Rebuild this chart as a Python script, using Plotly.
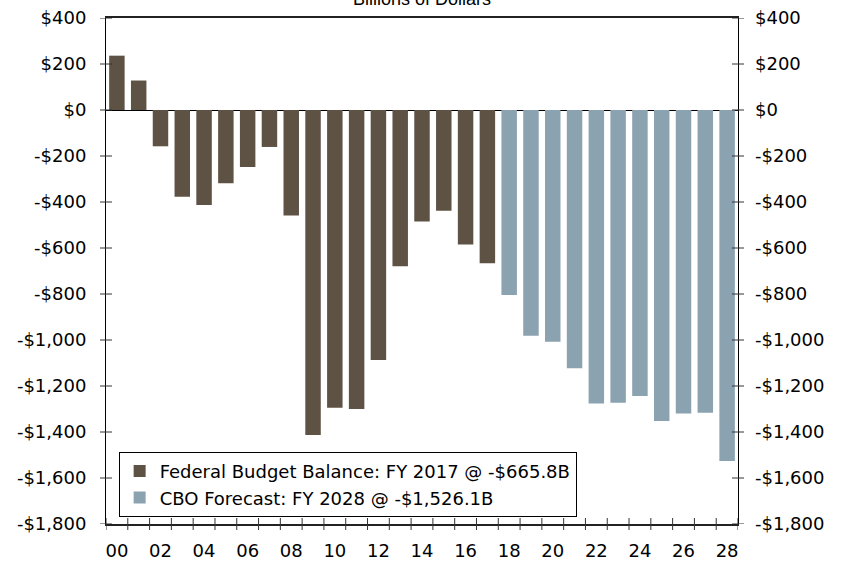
import plotly.graph_objects as go

# Federal budget balance, billions of dollars (fiscal years)
hist_years = list(range(2000, 2018))
hist_values = [236.2, 128.2, -157.8, -377.6, -412.7, -318.3, -248.2, -160.7, -458.6,
               -1412.7, -1294.4, -1299.6, -1087.0, -679.5, -484.6, -438.5, -584.7, -665.8]

fcst_years = list(range(2018, 2029))
fcst_values = [-804.0, -981.0, -1008.0, -1123.0, -1276.0, -1273.0, -1244.0,
               -1352.0, -1320.0, -1316.0, -1526.1]

hist_name = "Federal Budget Balance: FY 2017 @ -$665.8B"
fcst_name = "CBO Forecast: FY 2028 @ -$1,526.1B"

y_ticks = [400, 200, 0, -200, -400, -600, -800, -1000, -1200, -1400, -1600, -1800]
y_labels = ["$400", "$200", "$0", "-$200", "-$400", "-$600", "-$800", "-$1,000",
            "-$1,200", "-$1,400", "-$1,600", "-$1,800"]

x_label_years = list(range(2000, 2029, 2))
x_labels = [f"{y % 100:02d}" for y in x_label_years]
x_bounds = [y + 0.5 for y in range(1999, 2029)]

BROWN = "#5E5245"
BLUE = "#8BA2B1"
FONT = "DejaVu Sans"
x_range = [1999.5, 2028.5]
y_range = [-1800, 400]
TICK_HALF = 6  # tick marks cross the axis line: half outside, half inside

fig = go.Figure()
fig.add_trace(go.Bar(x=hist_years, y=hist_values, name=hist_name,
                     marker=dict(color=BROWN, line=dict(width=0))))
# forecast bars share the x axis and live on the right-hand y axis (same scale)
fig.add_trace(go.Bar(x=fcst_years, y=fcst_values, name=fcst_name, yaxis="y2",
                     marker=dict(color=BLUE, line=dict(width=0))))

common_y = dict(range=y_range, tickvals=y_ticks, ticktext=y_labels, showgrid=False,
                ticks="", automargin=False, ticklabelstandoff=15)

fig.update_layout(
    width=846, height=563,
    margin=dict(l=106, r=108, t=18, b=39, autoexpand=False),
    paper_bgcolor="white", plot_bgcolor="white",
    barmode="overlay", bargap=0.29,
    font=dict(family=FONT, size=18, color="black"),
    showlegend=True,
    legend=dict(x=0.02, y=0.014, xanchor="left", yanchor="bottom",
                bgcolor="white", bordercolor="black", borderwidth=1,
                font=dict(family=FONT, size=18, color="black"),
                tracegroupgap=0),
    xaxis=dict(range=x_range, tickvals=x_label_years, ticktext=x_labels, ticks="",
               showgrid=False, zeroline=False, automargin=False,
               showline=True, linecolor="#222222", linewidth=1.5, mirror=True,
               ticklabelstandoff=10),
    yaxis=dict(common_y, side="left",
               showline=True, linecolor="black", linewidth=1, mirror=True,
               zeroline=True, zerolinecolor="black", zerolinewidth=1),
    yaxis2=dict(common_y, side="right", overlaying="y", anchor="x",
                zeroline=False, showline=False, ticklabelstandoff=16),
)

# crossing tick marks on the bottom axis at every category boundary
for b in x_bounds:
    fig.add_shape(type="line", xref="x", x0=b, x1=b,
                  yref="paper", ysizemode="pixel", yanchor=0,
                  y0=-TICK_HALF, y1=TICK_HALF,
                  line=dict(color="#333333", width=1))

# crossing tick marks on both value axes
for v in y_ticks:
    for side in (0, 1):
        fig.add_shape(type="line", yref="y", y0=v, y1=v,
                      xref="paper", xsizemode="pixel", xanchor=side,
                      x0=-TICK_HALF, x1=TICK_HALF,
                      line=dict(color="#333333", width=1))

fig.add_annotation(text="Billions of Dollars", xref="paper", yref="paper",
                   x=0.5, y=1, xanchor="center", yanchor="bottom", yshift=7,
                   showarrow=False,
                   font=dict(family="Liberation Sans", size=18, color="black"))

fig.write_html("out.html")
